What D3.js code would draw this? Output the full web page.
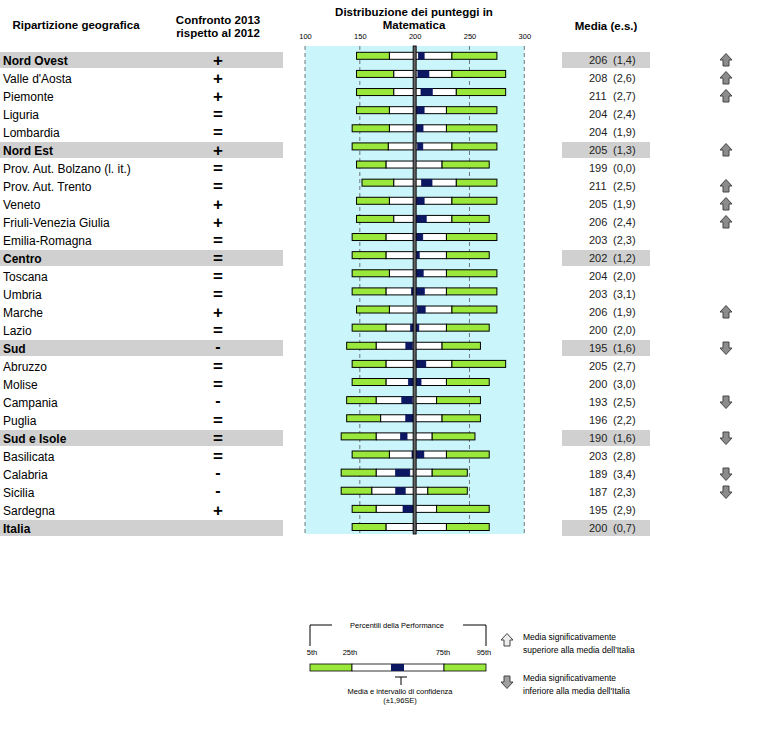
<!DOCTYPE html>
<html><head><meta charset="utf-8">
<script src="https://cdn.jsdelivr.net/npm/d3@7"></script>
<style>body{margin:0;background:#fff}svg{display:block;font-family:"Liberation Sans",Arial,sans-serif}</style>
</head><body><svg id="c" width="764" height="730"></svg>
<script>
const regions = ["Nord Ovest","Valle d'Aosta","Piemonte","Liguria","Lombardia","Nord Est","Prov. Aut. Bolzano (l. it.)","Prov. Aut. Trento","Veneto","Friuli-Venezia Giulia","Emilia-Romagna","Centro","Toscana","Umbria","Marche","Lazio","Sud","Abruzzo","Molise","Campania","Puglia","Sud e Isole","Basilicata","Calabria","Sicilia","Sardegna","Italia"];
const macro = [1,0,0,0,0,1,0,0,0,0,0,1,0,0,0,0,1,0,0,0,0,1,0,0,0,0,1];
const trend = ["+","+","+","=","=","+","=","=","+","+","=","=","=","=","+","=","-","=","=","-","=","=","=","-","-","+",""];
const means = [206,208,211,204,204,205,199,211,205,206,203,202,204,203,206,200,195,205,200,193,196,190,203,189,187,195,200];
const se = [1.4,2.6,2.7,2.4,1.9,1.3,0.0,2.5,1.9,2.4,2.3,1.2,2.0,3.1,1.9,2.0,1.6,2.7,3.0,2.5,2.2,1.6,2.8,3.4,2.3,2.9,0.7];
const p5  = [147,147,147,147,143,143,147,152,147,147,143,143,143,143,147,143,138,143,143,138,138,133,143,133,133,143,143];
const p25 = [177,181,181,177,177,176,174,181,177,181,174,174,177,174,177,174,165,174,174,165,169,165,177,165,161,165,174];
const p75 = [234,234,238,229,229,234,225,238,234,234,229,229,229,229,234,229,225,234,229,220,225,216,229,216,212,220,229];
const p95 = [275,283,283,275,275,275,268,275,275,268,275,268,275,275,275,268,260,283,268,260,260,255,268,248,248,268,268];
const signif = [1,1,1,0,0,1,0,1,1,1,0,0,0,0,1,0,-1,0,0,-1,0,-1,0,-1,-1,0,0];
const ticks = [100,150,200,250,300];
const italyMean = 200;

const GREEN="#9be83c", NAVY="#0b1760", CYAN="#c9f5fb", GRAY="#d0d0d0";
const svg = d3.select("#c");
const x = d3.scaleLinear().domain([100,300]).range([305,524.3]);
const yT = d3.scalePoint().domain(d3.range(regions.length)).range([60,528]);
const yB = d3.scalePoint().domain(d3.range(regions.length)).range([55.8,527]);
const idx = d3.range(regions.length);

function hdr(t, xx, yy, size){ svg.append("text").attr("x",xx).attr("y",yy).attr("text-anchor","middle")
  .attr("font-weight","bold").attr("font-size",size||11.5).attr("fill","#000").text(t); }
hdr("Ripartizione geografica",76,29);
hdr("Confronto 2013",218,24);
hdr("rispetto al 2012",218,37);
hdr("Distribuzione dei punteggi in",414,16);
hdr("Matematica",414,29);
hdr("Media (e.s.)",606,30);

const bands = svg.append("g");
idx.filter(i=>macro[i]).forEach(i=>{
  bands.append("rect").attr("x",0).attr("y",yT(i)-8).attr("width",283).attr("height",16).attr("fill",GRAY);
  bands.append("rect").attr("x",562).attr("y",yT(i)-8).attr("width",88).attr("height",16).attr("fill",GRAY);
});

svg.append("rect").attr("x",x(100)).attr("y",46).attr("width",x(300)-x(100)).attr("height",488).attr("fill",CYAN);
ticks.filter(t=>t!==italyMean).forEach(t=>{
  svg.append("line").attr("x1",x(t)).attr("x2",x(t)).attr("y1",46).attr("y2",534)
    .attr("stroke","#555").attr("stroke-width",0.8).attr("stroke-dasharray","4,3");
});
const ax = svg.append("g").attr("transform","translate(0,41)")
  .call(d3.axisTop(x).tickValues(ticks).tickSize(0).tickPadding(2));
ax.select(".domain").remove();
ax.selectAll("text").attr("font-size",7.5).attr("font-family","Liberation Sans, Arial").attr("fill","#000");

const rows = svg.append("g");
idx.forEach(i=>{
  const yc = yT(i);
  rows.append("text").attr("x",3).attr("y",yc+4.5).attr("font-size",12)
    .attr("font-weight",macro[i]?"bold":"normal").attr("fill","#000").text(regions[i]);
  if(trend[i]) rows.append("text").attr("x",218).attr("y",yc+(trend[i]==="-"?4:5.5)).attr("text-anchor","middle")
    .attr("font-size",trend[i]==="-"?16:17).attr("font-weight","bold").attr("fill","#000").text(trend[i]);
  rows.append("text").attr("x",589).attr("y",yc+4).attr("font-size",11).attr("fill","#222")
    .text(means[i]);
  rows.append("text").attr("x",613).attr("y",yc+4).attr("font-size",11).attr("fill","#222")
    .text("(" + se[i].toFixed(1).replace(".",",") + ")");
  if(signif[i]) arrow(rows, 726, yc, signif[i], "#8c8c8c");
});

const bars = svg.append("g");
idx.forEach(i=>{
  const yc = yB(i), h = 7;
  const seg = (a,b,fill)=>bars.append("rect").attr("x",x(a)).attr("y",yc-h/2).attr("width",x(b)-x(a)).attr("height",h)
    .attr("fill",fill).attr("stroke","#000").attr("stroke-width",1);
  seg(p5[i],p25[i],GREEN);
  seg(p25[i],p75[i],"#fff");
  seg(p75[i],p95[i],GREEN);
  const lo = means[i]-1.96*se[i], hi = means[i]+1.96*se[i];
  if(hi-lo>0) bars.append("rect").attr("x",x(lo)).attr("y",yc-h/2).attr("width",x(hi)-x(lo)).attr("height",h)
    .attr("fill",NAVY).attr("stroke",NAVY).attr("stroke-width",0.5);
});
svg.append("rect").attr("x",x(italyMean)-1.5).attr("y",46).attr("width",3).attr("height",488)
  .attr("fill","#666").attr("stroke","#000").attr("stroke-width",0.9);

function arrow(g, cx, cy, dir, fill){
  const pts = [[0,-6.5],[6,0],[3,0],[3,6],[-3,6],[-3,0],[-6,0]].map(p=>[cx+p[0], cy+p[1]*dir]);
  g.append("path").attr("d","M"+pts.map(p=>p.join(",")).join("L")+"Z").attr("fill",fill)
    .attr("stroke","#444").attr("stroke-width",1);
}

const lg = svg.append("g");
const lx = d3.scaleLinear().domain([5,95]).range([310,486]);
const ltxt = (t,xx,yy,anchor)=>lg.append("text").attr("x",xx).attr("y",yy).attr("font-size",7.5)
  .attr("text-anchor",anchor||"middle").attr("fill","#000").text(t);
lg.append("path").attr("d",`M${lx(5)},646V625H${332}`).attr("fill","none").attr("stroke","#000");
lg.append("path").attr("d",`M${463},625H${lx(95)}V646`).attr("fill","none").attr("stroke","#000");
ltxt("Percentili della Performance",397,628);
ltxt("5th",312,655); ltxt("25th",350,655); ltxt("75th",443,655); ltxt("95th",484,655);
const lseg=(a,b,f)=>lg.append("rect").attr("x",a).attr("y",664).attr("width",b-a).attr("height",7).attr("fill",f).attr("stroke","#000").attr("stroke-width",0.8);
lseg(310,352,GREEN); lseg(352,444,"#fff"); lseg(444,486,GREEN);
lg.append("rect").attr("x",391).attr("y",664).attr("width",13).attr("height",7).attr("fill",NAVY);
lg.append("path").attr("d","M395,677H407M401,677V685").attr("stroke","#000").attr("fill","none");
ltxt("Media e intervallo di confidenza",400,694);
ltxt("(±1,96SE)",400,703);

arrow(lg,507,640,1,"#ececec");
arrow(lg,507,682,-1,"#a0a0a0");
const at=(t,yy)=>lg.append("text").attr("x",523).attr("y",yy).attr("font-size",8.5).attr("fill","#000").text(t);
at("Media significativamente",640); at("superiore alla media dell'Italia",653);
at("Media significativamente",681); at("inferiore alla media dell'Italia",694);
</script></body></html>
